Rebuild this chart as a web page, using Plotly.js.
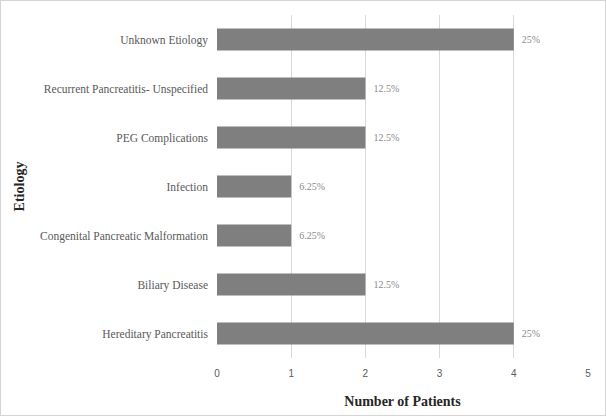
<!DOCTYPE html>
<html><head><meta charset="utf-8">
<script src="https://cdn.plot.ly/plotly-3.0.1.min.js"></script>
<style>html,body{margin:0;padding:0;background:#fff}#wrap{width:606px;height:416px;box-sizing:border-box;border:1px solid #d4d4d4;position:relative}#chart{position:absolute;left:-1px;top:-1px;width:606px;height:416px}</style>
</head><body><div id="wrap"><div id="chart"></div></div>
<script>
const categories = ["Hereditary Pancreatitis","Biliary Disease","Congenital Pancreatic Malformation","Infection","PEG Complications","Recurrent Pancreatitis- Unspecified","Unknown Etiology"];
const patients = [4,2,1,1,2,2,4];
const percentLabels = ["25%","12.5%","6.25%","6.25%","12.5%","12.5%","25%"];
const xTicks = [0,1,2,3,4,5];

Plotly.newPlot('chart',[{
  type:'bar', orientation:'h', y:categories, x:patients,
  text:percentLabels, texttemplate:'\u2002%{text}', textposition:'outside', cliponaxis:false,
  textfont:{family:'Liberation Serif, Times New Roman, serif', size:10, color:'#8a8a8a'},
  marker:{color:'#7f7f7f', line:{width:0}}, width:0.45, hoverinfo:'none'
}],{
  width:606, height:416,
  margin:{l:217,r:18,t:15,b:58},
  paper_bgcolor:'rgba(0,0,0,0)', plot_bgcolor:'#fff',
  showlegend:false,
  xaxis:{range:[0,5], tickvals:xTicks, showgrid:true, gridcolor:'#d9d9d9', gridwidth:1, zeroline:false, showline:false,
    ticks:'', tickfont:{family:'Liberation Sans, Arial, sans-serif', size:10, color:'#595959'}, ticklabelstandoff:8,
    title:{text:'<b>Number of Patients</b>', font:{family:'Liberation Serif, Times New Roman, serif', size:14, color:'#262626'}, standoff:18}},
  yaxis:{showgrid:false, zeroline:false, showline:false, ticks:'', automargin:false,
    tickfont:{family:'Liberation Serif, Times New Roman, serif', size:11.5, color:'#595959'}, ticklabelstandoff:8,
    title:{text:'<b>Etiology</b>', font:{family:'Liberation Serif, Times New Roman, serif', size:14, color:'#262626'}, standoff:12}},
  bargap:0.55
},{staticPlot:true, displayModeBar:false});
</script></body></html>
